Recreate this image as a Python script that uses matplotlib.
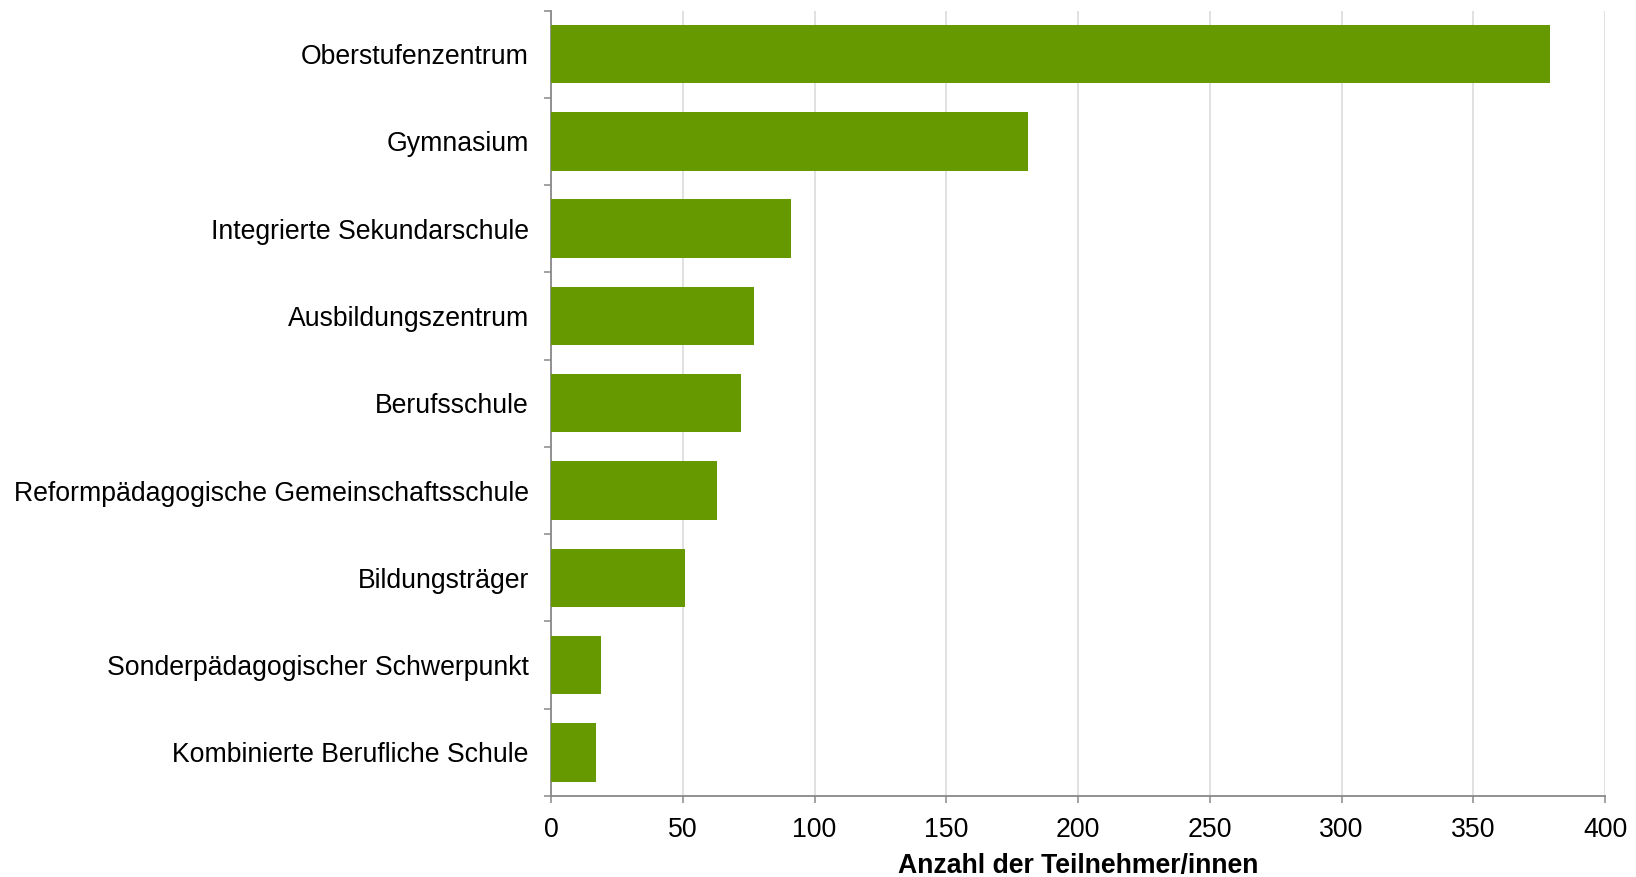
import matplotlib
matplotlib.use("Agg")
import matplotlib.pyplot as plt
import numpy as np
from matplotlib.ticker import FixedLocator

categories = [
    "Oberstufenzentrum",
    "Gymnasium",
    "Integrierte Sekundarschule",
    "Ausbildungszentrum",
    "Berufsschule",
    "Reformpädagogische Gemeinschaftsschule",
    "Bildungsträger",
    "Sonderpädagogischer Schwerpunkt",
    "Kombinierte Berufliche Schule",
]
values = [379, 181, 91, 77, 72, 63, 51, 19, 17]
x_ticks = [0, 50, 100, 150, 200, 250, 300, 350, 400]
x_label = "Anzahl der Teilnehmer/innen"

plt.rcParams['font.family'] = ['Liberation Sans', 'DejaVu Sans']
FS = 19.2

fig = plt.figure(figsize=(16.36, 8.77), dpi=100)
ax = fig.add_axes([551/1636, 1 - 796/877, (1605-551)/1636, (796-10.5)/877])

y = np.arange(len(categories))
ax.barh(y, values, height=0.67, color="#669900", zorder=3)
ax.set_ylim(len(categories) - 0.5, -0.5)
ax.set_xlim(0, 400)

ax.set_yticks(y)
ax.set_yticklabels(categories, fontsize=FS, color="black")
ax.yaxis.set_minor_locator(FixedLocator(np.arange(-0.5, len(categories), 1.0)))
ax.tick_params(axis='y', which='major', length=0, pad=16)
ax.tick_params(axis='y', which='minor', length=5, width=1.1, color="#898989", direction='out')

ax.set_xticks(x_ticks)
ax.set_xticklabels([str(v) for v in x_ticks], fontsize=FS, color="black")
ax.tick_params(axis='x', which='major', length=5, width=1.1, color="#898989", direction='out', pad=10)

ax.grid(axis='x', color="#d9d9d9", linewidth=1.1, zorder=0)
ax.set_axisbelow(True)

for s in ['top', 'right']:
    ax.spines[s].set_visible(False)
for s in ['left', 'bottom']:
    ax.spines[s].set_color("#898989")
    ax.spines[s].set_linewidth(1.3)

ax.set_xlabel(x_label, fontsize=FS, fontweight='bold', labelpad=7)

fig.savefig("out.png", dpi=100)
